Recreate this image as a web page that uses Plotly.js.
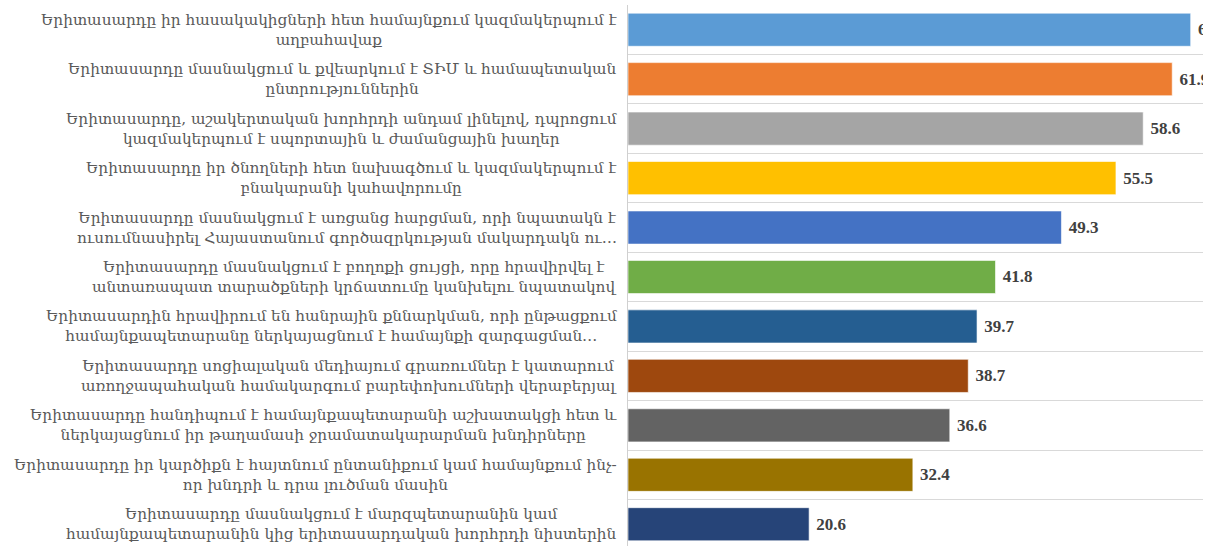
<!DOCTYPE html>
<html>
<head>
<meta charset="utf-8">
<script src="https://cdn.plot.ly/plotly-3.0.1.min.js"></script>
<style>html,body{margin:0;padding:0;background:#fff;}#chart{width:1216px;height:546px;}</style>
</head>
<body>
<div id="chart"></div>
<script>
const categories = [
  "Երիտասարդը իր հասակակիցների հետ համայնքում կազմակերպում է<br>աղբահավաք",
  "Երիտասարդը մասնակցում և քվեարկում է ՏԻՄ և համապետական<br>ընտրություններին",
  "Երիտասարդը, աշակերտական խորհրդի անդամ լինելով, դպրոցում<br>կազմակերպում է սպորտային և ժամանցային խաղեր",
  "Երիտասարդը իր ծնողների հետ նախագծում և կազմակերպում է<br>բնակարանի կահավորումը",
  "Երիտասարդը մասնակցում է առցանց հարցման, որի նպատակն է<br>ուսումնասիրել Հայաստանում գործազրկության մակարդակն ու…",
  "Երիտասարդը մասնակցում է բողոքի ցույցի, որը հրավիրվել է<br>անտառապատ տարածքների կրճատումը կանխելու նպատակով",
  "Երիտասարդին հրավիրում են հանրային քննարկման, որի ընթացքում<br>համայնքապետարանը ներկայացնում է համայնքի զարգացման…",
  "Երիտասարդը սոցիալական մեդիայում գրառումներ է կատարում<br>առողջապահական համակարգում բարեփոխումների վերաբերյալ",
  "Երիտասարդը հանդիպում է համայնքապետարանի աշխատակցի հետ և<br>ներկայացնում իր թաղամասի ջրամատակարարման խնդիրները",
  "Երիտասարդը իր կարծիքն է հայտնում ընտանիքում կամ համայնքում ինչ-<br>որ խնդրի և դրա լուծման մասին",
  "Երիտասարդը մասնակցում է մարզպետարանին կամ<br>համայնքապետարանին կից երիտասարդական խորհրդի նիստերին"
];
const values = [64.0, 61.9, 58.6, 55.5, 49.3, 41.8, 39.7, 38.7, 36.6, 32.4, 20.6];
const barColors = ["#5B9BD5","#ED7D31","#A5A5A5","#FFC000","#4472C4","#70AD47","#255E91","#9E480E","#636363","#997300","#264478"];

const ids = categories.map((c, i) => "c" + i);

const trace = {
  type: "bar",
  orientation: "h",
  y: ids,
  x: values,
  marker: {color: barColors, line: {color: "rgba(255,255,255,0.6)", width: 1}},
  text: values.map(v => "\u00a0" + v.toFixed(1)),
  textposition: "outside",
  cliponaxis: true,
  textfont: {family: "Liberation Serif", size: 17, color: "#404040", weight: "bold"},
  hoverinfo: "none"
};

const annotations = categories.map((c, i) => ({
  xref: "paper", yref: "y",
  x: 0, y: ids[i],
  xanchor: "right", yanchor: "middle",
  xshift: -9,
  align: "center",
  showarrow: false,
  text: c,
  font: {family: "DejaVu Serif", size: 15.3, color: "#595959"}
}));

const layout = {
  width: 1216, height: 546,
  margin: {l: 628, r: 13, t: 5, b: 0, pad: 0},
  paper_bgcolor: "#ffffff", plot_bgcolor: "#ffffff",
  showlegend: false,
  bargap: 0.33,
  xaxis: {range: [0, 65.4], showgrid: false, zeroline: false, showticklabels: false, ticks: "", showline: false, fixedrange: true},
  yaxis: {
    type: "category",
    range: [10.44, -0.5],
    tickson: "boundaries",
    showgrid: true, gridcolor: "#d9d9d9", gridwidth: 1,
    showticklabels: false, ticks: "",
    showline: true, linecolor: "#d0d0d0", linewidth: 1,
    zeroline: false, fixedrange: true
  },
  annotations: annotations
};

Plotly.newPlot("chart", [trace], layout, {staticPlot: true, displayModeBar: false});
</script>
</body>
</html>
